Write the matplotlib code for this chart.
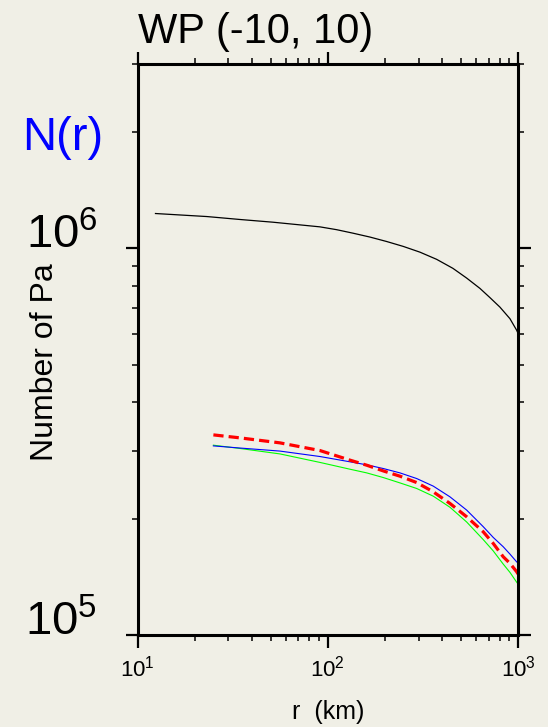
import matplotlib
matplotlib.use("Agg")
import matplotlib.pyplot as plt
from matplotlib.ticker import LogLocator, NullFormatter

plt.rcParams['font.family'] = ['Liberation Sans', 'DejaVu Sans']
plt.rcParams['mathtext.fontset'] = 'custom'
plt.rcParams['mathtext.rm'] = 'Liberation Sans'
plt.rcParams['mathtext.default'] = 'regular'

BG = '#f0efe6'

# total count vs distance (black)
r_total = [12.4, 23.1, 34.5, 51.4, 90.8, 111.2, 135.5, 166.4, 203.7, 249.1, 304.8,
           373.2, 454.6, 536.9, 630.6, 711.6, 803, 906.7, 984, 1000]
n_total = [1.231e6, 1.209e6, 1.188e6, 1.169e6, 1.137e6, 1.118e6, 1.095e6, 1.07e6,
           1.042e6, 1.012e6, 9.78e5, 9.37e5, 8.88e5, 8.38e5, 7.88e5, 7.46e5,
           7.05e5, 6.58e5, 6.14e5, 6.03e5]

# lower group of curves
r_sub = [25, 34.5, 56, 90.8, 130.7, 160, 195.6, 239.3, 293.1, 358.2, 438.5,
         536.9, 656.1, 740.5, 836.1, 906.7, 983.1, 1000]
n_blue = [3.084e5, 3.045e5, 2.99e5, 2.895e5, 2.805e5, 2.755e5, 2.695e5, 2.626e5,
          2.539e5, 2.427e5, 2.277e5, 2.104e5, 1.906e5, 1.788e5, 1.691e5, 1.619e5,
          1.546e5, 1.535e5]
n_red = [3.293e5, 3.235e5, 3.14e5, 3.0e5, 2.833e5, 2.749e5, 2.657e5, 2.575e5,
         2.479e5, 2.346e5, 2.189e5, 2.022e5, 1.849e5, 1.725e5, 1.593e5, 1.532e5,
         1.458e5, 1.438e5]
n_green = [3.097e5, 3.037e5, 2.94e5, 2.795e5, 2.684e5, 2.626e5, 2.554e5, 2.474e5,
           2.393e5, 2.286e5, 2.14e5, 1.96e5, 1.765e5, 1.65e5, 1.525e5, 1.452e5,
           1.37e5, 1.354e5]

xticks = [10, 100, 1000]
xlabels = [r'$10^{1}$', r'$10^{2}$', r'$10^{3}$']
yticks = [1e5, 1e6]
ylabels = [r'$10^{5}$', r'$10^{6}$']

fig = plt.figure(figsize=(5.48, 7.27), dpi=100, facecolor=BG)
ax = fig.add_axes([0.2513, 0.1266, 0.694, 0.7854], facecolor=BG)

ax.plot(r_total, n_total, color='black', lw=0.9)
ax.plot(r_sub, n_green, color='#00ff00', lw=0.8)
ax.plot(r_sub, n_blue, color='#0000ff', lw=0.8)
ax.plot(r_sub, n_red, color='#ff0000', lw=2.3, dashes=(3.2, 1.6))

ax.set_xscale('log')
ax.set_yscale('log')
ax.set_xlim(10, 1000)
ax.set_ylim(1e5, 3e6)

ax.set_xticks(xticks, labels=xlabels)
ax.set_yticks(yticks, labels=ylabels)
ax.xaxis.set_minor_locator(LogLocator(base=10, subs=range(2, 10)))
ax.yaxis.set_minor_locator(LogLocator(base=10, subs=range(2, 10)))
ax.xaxis.set_minor_formatter(NullFormatter())
ax.yaxis.set_minor_formatter(NullFormatter())

for s in ax.spines.values():
    s.set_linewidth(2.2)

ax.tick_params(which='both', direction='out', top=True, right=True, color='black')
ax.tick_params(which='major', length=9, width=1.6)
ax.tick_params(which='minor', length=4.3, width=1.1)
ax.tick_params(axis='x', which='major', labelsize=16, pad=6)
ax.tick_params(axis='y', which='major', labelsize=34, pad=20)
for lab in ax.get_yticklabels():
    lab.set_verticalalignment('baseline')

fig.text(0.2518, 0.9409, 'WP (-10, 10)', fontsize=30, ha='left', va='baseline')
fig.text(0.040, 0.7937, 'N(r)', fontsize=34, color='#0000ff', ha='left', va='baseline')
fig.text(45 / 548, 1 - 362 / 727, 'Number of Pa', fontsize=23, rotation=90,
         ha='center', va='center')
fig.text(0.5985, 1 - 712 / 727, 'r  (km)', fontsize=18, ha='center', va='center')

fig.savefig('out.png', dpi=100, facecolor=BG)
